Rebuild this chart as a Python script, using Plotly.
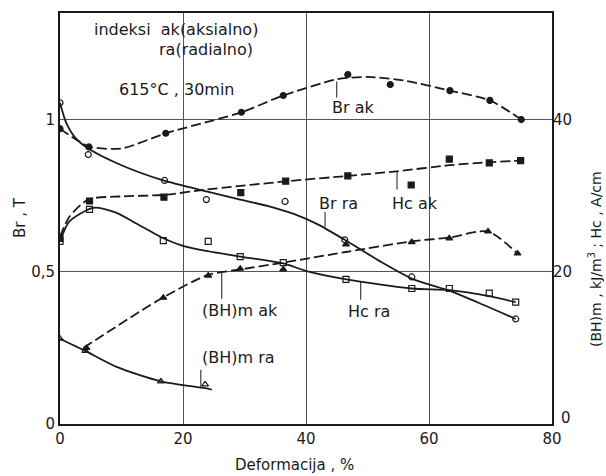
import plotly.graph_objects as go

# ---------------- data ----------------
# Br ak : remanence, axial (T) - filled circles, dashed
br_ak_x = [0, 4.7, 17.2, 29.5, 36.3, 46.8, 53.7, 63.4, 69.9, 75.0]
br_ak_y = [0.97, 0.91, 0.955, 1.024, 1.079, 1.148, 1.115, 1.095, 1.063, 1.0]
br_ak_curve_x = [0, 4.7, 10, 17.2, 29.5, 36.3, 45, 50, 56, 63.4, 69.9, 75.0]
br_ak_curve_y = [0.97, 0.912, 0.905, 0.955, 1.024, 1.079, 1.132, 1.14, 1.128, 1.095, 1.063, 1.0]

# Br ra : remanence, radial (T) - open circles, solid
br_ra_x = [0, 4.6, 17.0, 23.8, 36.6, 46.3, 57.2, 74.1]
br_ra_y = [1.055, 0.885, 0.80, 0.737, 0.731, 0.605, 0.483, 0.345]
br_ra_curve_x = [0, 1, 2.5, 4.6, 10, 16.8, 23.8, 29.3, 34, 38, 42, 46.3, 52, 57.4, 63.4, 69, 74.1]
br_ra_curve_y = [1.055, 0.99, 0.94, 0.905, 0.85, 0.80, 0.764, 0.737, 0.715, 0.69, 0.655, 0.605, 0.535, 0.476, 0.437, 0.39, 0.345]

# Hc ak : coercivity, axial (A/cm) - filled squares, dashed
hc_ak_x = [0, 4.8, 16.9, 29.4, 36.7, 46.8, 57.1, 63.3, 69.8, 74.9]
hc_ak_y = [24.4, 29.3, 29.8, 30.4, 31.9, 32.6, 31.4, 34.8, 34.3, 34.6]
hc_ak_curve_x = [0, 1.5, 4.6, 10, 16.8, 23.8, 36.9, 46.9, 54.7, 63.4, 69.9, 74.8]
hc_ak_curve_y = [24.6, 27.2, 29.5, 29.9, 30.1, 30.8, 31.9, 32.6, 33.2, 34.0, 34.4, 34.6]

# Hc ra : coercivity, radial (A/cm) - open squares, solid
hc_ra_x = [0, 4.8, 16.8, 24.1, 29.3, 36.3, 46.5, 57.2, 63.3, 69.8, 74.1]
hc_ra_y = [24.0, 28.2, 24.1, 24.0, 22.0, 21.2, 19.0, 17.8, 17.8, 17.2, 16.0]
hc_ra_curve_x = [0, 1.5, 5.4, 9, 12.5, 16.8, 20, 24, 29.3, 36.3, 40.1, 46.6, 57.2, 63.3, 69.8, 74.1]
hc_ra_curve_y = [24.0, 26.6, 28.4, 27.8, 26.3, 24.4, 23.4, 22.7, 22.0, 21.1, 20.1, 19.0, 17.8, 17.6, 16.8, 16.0]

# (BH)m ak : energy product, axial (kJ/m3) - filled triangles, dashed
bh_ak_x = [4.3, 16.8, 24.1, 29.3, 36.3, 46.5, 57.2, 63.3, 69.6, 74.4]
bh_ak_y = [10.0, 16.6, 19.5, 20.4, 20.3, 23.6, 23.9, 24.4, 25.3, 22.4]
bh_ak_curve_x = [3.8, 16.5, 24.1, 29.3, 36.3, 46.5, 57.2, 63.3, 69.6, 74.4]
bh_ak_curve_y = [10.0, 16.5, 19.6, 20.3, 21.2, 22.6, 24.0, 24.5, 25.3, 22.4]

# (BH)m ra : energy product, radial (kJ/m3) - open triangles, solid
bh_ra_x = [0, 4.1, 16.4, 23.6]
bh_ra_y = [11.2, 9.6, 5.6, 5.2]
bh_ra_curve_x = [0, 4.1, 9.2, 16.4, 23.6, 24.7]
bh_ra_curve_y = [11.2, 9.6, 7.5, 5.6, 4.7, 4.5]

# tick labels
x_ticks = [0, 20, 40, 60, 80]
y_ticks = [0, 0.5, 1]
y_tick_text = ["0", "0,5", "1"]
y2_ticks = [20, 40]

# curve labels: text, x, y (left-axis units)
labels = [
    ("Br ak", 43.9, 1.039),
    ("Br ra", 41.8, 0.724),
    ("Hc ak", 53.7, 0.724),
    ("(BH)m ak", 22.8, 0.372),
    ("(BH)m ra", 22.8, 0.217),
    ("Hc ra", 46.5, 0.368),
]
# leader lines: x, y_top, y_bottom (left-axis units)
leaders = [
    (45.0, 1.125, 1.072),
    (43.1, 0.697, 0.648),
    (54.8, 0.829, 0.770),
    (26.3, 0.497, 0.411),
    (22.9, 0.178, 0.118),
    (48.9, 0.467, 0.408),
]

INK = "#1a1a1a"
FONT = "DejaVu Sans"
DASH = "10px,4px"

fig = go.Figure()


def add_series(cx, cy, mx, my, dash, symbol, yaxis):
    fig.add_trace(go.Scatter(x=cx, y=cy, mode="lines", yaxis=yaxis,
                             line=dict(color=INK, width=1.8, dash=dash,
                                       shape="spline", smoothing=0.7),
                             hoverinfo="skip", showlegend=False))
    fig.add_trace(go.Scatter(x=mx, y=my, mode="markers", yaxis=yaxis,
                             marker=dict(symbol=symbol, size=6, color=INK,
                                         line=dict(color=INK, width=1.2)),
                             showlegend=False))


add_series(br_ak_curve_x, br_ak_curve_y, br_ak_x, br_ak_y, DASH, "circle", "y")
add_series(br_ra_curve_x, br_ra_curve_y, br_ra_x, br_ra_y, "solid", "circle-open", "y")
add_series(hc_ak_curve_x, hc_ak_curve_y, hc_ak_x, hc_ak_y, DASH, "square", "y2")
add_series(hc_ra_curve_x, hc_ra_curve_y, hc_ra_x, hc_ra_y, "solid", "square-open", "y2")
add_series(bh_ak_curve_x, bh_ak_curve_y, bh_ak_x, bh_ak_y, DASH, "triangle-up", "y2")
add_series(bh_ra_curve_x, bh_ra_curve_y, bh_ra_x, bh_ra_y, "solid", "triangle-up-open", "y2")

W, H = 606, 476
L, R, T, B = 60, 54, 13, 52
pw, ph = W - L - R, H - T - B


def px_anno(x, y, text, size, angle=0):
    return dict(x=(x - L) / pw, y=(H - B - y) / ph, xref="paper", yref="paper",
                text=text, textangle=angle, showarrow=False,
                xanchor="center", yanchor="middle",
                font=dict(family=FONT, size=size, color=INK))


annotations = []
for text, x, y in labels:
    annotations.append(dict(x=x, y=y, xref="x", yref="y", text=text, showarrow=False,
                            xanchor="left", yanchor="middle",
                            font=dict(family=FONT, size=16, color=INK)))
annotations += [
    dict(x=5.2, y=1.296, xref="x", yref="y", text="indeksi  ak(aksialno)",
         showarrow=False, xanchor="left", yanchor="middle",
         font=dict(family=FONT, size=16, color=INK)),
    dict(x=15.8, y=1.230, xref="x", yref="y", text="ra(radialno)",
         showarrow=False, xanchor="left", yanchor="middle",
         font=dict(family=FONT, size=16, color=INK)),
    dict(x=19.0, y=1.099, xref="x", yref="y", text="615°C , 30min",
         showarrow=False, xanchor="center", yanchor="middle",
         font=dict(family=FONT, size=16, color=INK)),
    px_anno(20, 218, "Br , T", 15, -90),
    px_anno(294, 465, "Deformacija , %", 15),
    px_anno(595, 259, "(BH)m , kJ/m<sup>3</sup> ; Hc , A/cm", 14, -90),
    # right-axis zero, drawn raised beside the "80" as in the original
    px_anno(566, 418, "0", 15),
]

shapes = [dict(type="line", xref="x", yref="y", x0=x, x1=x, y0=y0, y1=y1,
               line=dict(color=INK, width=1)) for x, y0, y1 in leaders]

fig.update_layout(
    width=W, height=H,
    margin=dict(l=L, r=R, t=T, b=B, pad=0, autoexpand=False),
    paper_bgcolor="white", plot_bgcolor="white",
    showlegend=False,
    font=dict(family=FONT, size=15, color=INK),
    annotations=annotations,
    shapes=shapes,
    xaxis=dict(range=[0, 80], tickvals=x_ticks, showgrid=True, gridcolor="#555",
               gridwidth=1, zeroline=False, showline=True, linecolor=INK,
               linewidth=1.8, mirror=True, ticks="", tickfont=dict(size=15),
               automargin=False),
    yaxis=dict(range=[0, 1.35], tickvals=y_ticks, ticktext=y_tick_text,
               showgrid=True, gridcolor="#555", gridwidth=1, zeroline=False,
               showline=True, linecolor=INK, linewidth=1.8, mirror=True,
               ticks="", tickfont=dict(size=15), automargin=False),
    yaxis2=dict(range=[0, 54], tickvals=y2_ticks, overlaying="y", side="right",
                showgrid=False, zeroline=False, showline=False, ticks="",
                tickfont=dict(size=15), automargin=False),
)

fig.write_html("out.html", config={"displayModeBar": False},
               post_script="document.body.style.margin='0';"
                           "document.body.style.overflow='hidden';")
